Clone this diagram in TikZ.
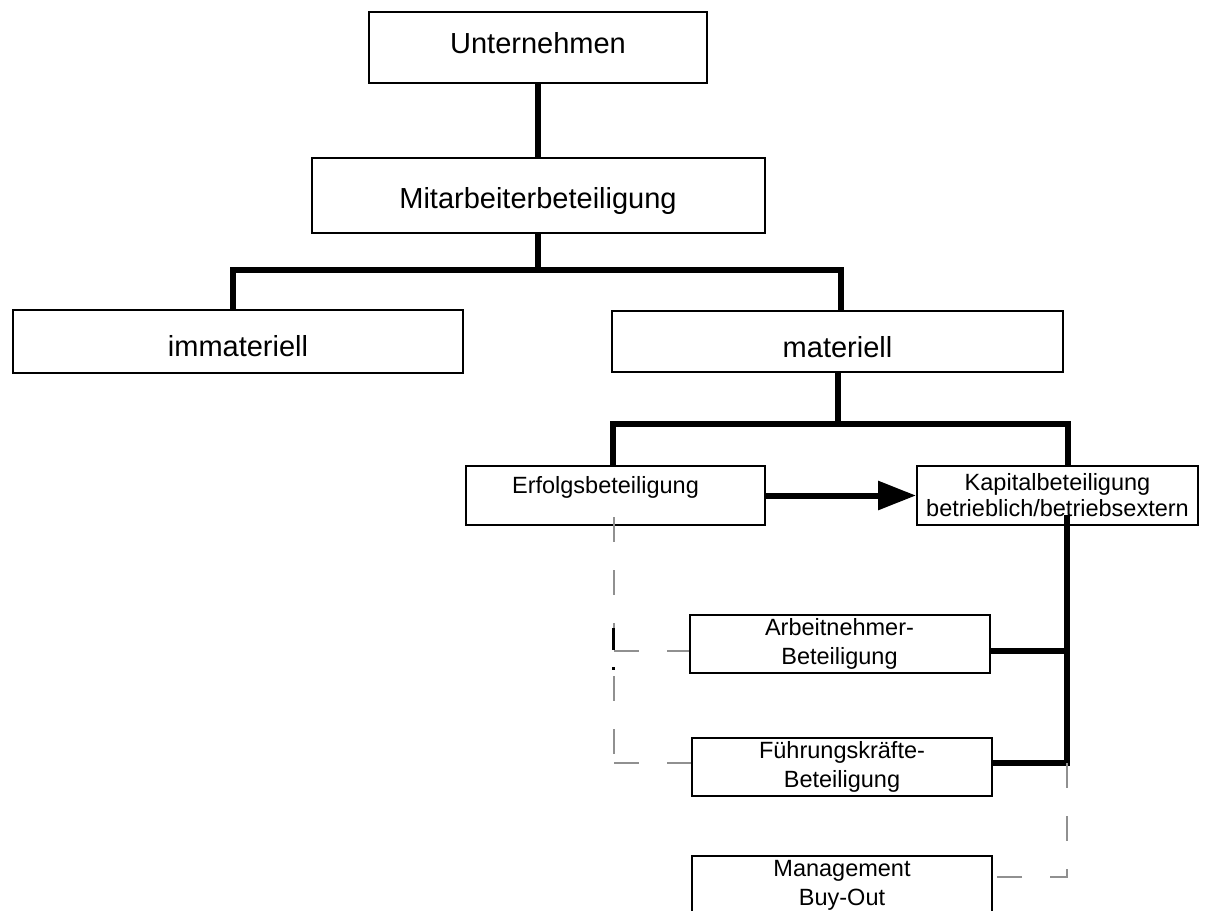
\documentclass[tikz,border=0pt]{standalone}
\usepackage{fontspec}
\setmainfont{Liberation Sans}
\usetikzlibrary{arrows.meta}

\begin{document}
\begin{tikzpicture}[x=1pt, y=-1pt,
    box/.style={draw=borderColour, line width=2pt, inner sep=2pt, align=center},
    bigbox/.style={box, font=\fontsize{29}{34}\selectfont, text height=#1, text depth=0pt},
    smallbox/.style={box, font=\fontsize{23.5}{29}\selectfont, minimum width=300, minimum height=58},
    conn/.style={draw=borderColour, line width=6pt},
    dashlink/.style={draw=dashColour, line width=2pt, dash pattern=on 25pt off 28pt}]
    \definecolor{borderColour}{HTML}{000000}
    \definecolor{dashColour}{HTML}{909090}

    % Page
    \useasboundingbox (0,0) rectangle (1209,910);
    \fill[white] (0,0) rectangle (1209,910);
    \clip (0,0) rectangle (1209,910);

    % Draw boxes
    \node[bigbox=11pt, minimum width=338, minimum height=71] (unternehmen) at (538,47.5) {Unternehmen};
    \node[bigbox=25pt, minimum width=453, minimum height=75] (mitarbeiter) at (538,195.5) {Mitarbeiterbeteiligung};
    \node[bigbox=29pt, minimum width=450, minimum height=63] (immateriell) at (238,341.5) {immateriell};
    \node[bigbox=31pt, minimum width=451, minimum height=61] (materiell) at (837.5,341.5) {materiell};
    \node[smallbox, minimum width=299, minimum height=59, text height=0pt, text depth=5pt] (erfolg) at (615.5,495.5) {Erfolgsbeteiligung\hspace*{20pt}};
    \node[smallbox, minimum width=281, minimum height=59, font=\fontsize{23.5}{26}\selectfont] (kapital) at (1057.5,495.5) {Kapitalbeteiligung\\betrieblich/betriebsextern};
    \node[smallbox] (arbeit) at (839.5,644) {Arbeitnehmer-\\Beteiligung};
    \node[smallbox] (fuehrung) at (842,767) {Führungskräfte-\\Beteiligung};
    \node[smallbox] (management) at (842,885) {Management\\Buy-Out};

    % Define joints
    \coordinate (topBar) at (538,270);
    \coordinate (midBar) at (837.5,424);
    \coordinate (trunkTop) at (1067,515);
    \coordinate (trunkEnd) at (1067,763);
    \coordinate (dashTop) at (614,517);
    \coordinate (dashMid) at (614,651);
    \coordinate (dashCorner) at (614,763);
    \coordinate (mgmtCorner) at (1067,877);

    % Draw thick connectors
    \draw[conn] (unternehmen.south) -- (mitarbeiter.north);
    \draw[conn] (mitarbeiter.south) -- (topBar);
    \draw[conn] ([xshift=-5pt]immateriell.north) |- (topBar) -| ([xshift=3.5pt]materiell.north);
    \draw[conn] (materiell.south) -- (midBar);
    \draw[conn] ([xshift=-2.5pt]erfolg.north) |- (midBar) -| ([xshift=10.5pt]kapital.north);
    \draw[conn, -{Triangle[length=38pt,width=28pt]}] (erfolg.east) -- (kapital.west);
    \draw[conn] ([yshift=-7pt]arbeit.east) -- ([yshift=-7pt]arbeit.east -| trunkTop);
    \draw[conn] (trunkTop) -- (trunkEnd) -- ([yshift=4pt]fuehrung.east);

    % Draw dashed links
    \draw[dashlink] (dashTop) -- (dashCorner);
    \draw[dashlink] (dashMid) -- (arbeit.west |- dashMid);
    \draw[dashlink] (dashCorner) -- (fuehrung.west |- dashCorner);
    \draw[dashlink] (trunkEnd) -- (mgmtCorner) -- (management.east |- mgmtCorner);
    \draw[line width=3pt] (613,628) -- (613,650);
    \fill (611.5,666.5) rectangle (614.5,669.5);

\end{tikzpicture}
\end{document}
